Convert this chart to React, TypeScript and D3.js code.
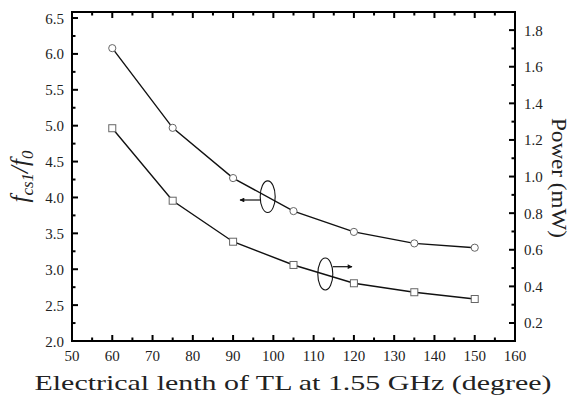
import React from "react";
import * as d3 from "d3";

const angles = [60, 75, 90, 105, 120, 135, 150];
const freqRatio = [6.08, 4.97, 4.27, 3.81, 3.52, 3.36, 3.3];
const powerMW = [1.264, 0.868, 0.644, 0.517, 0.417, 0.368, 0.331];
const xTicks = [50, 60, 70, 80, 90, 100, 110, 120, 130, 140, 150, 160];
const yLeftTicks = [2.0, 2.5, 3.0, 3.5, 4.0, 4.5, 5.0, 5.5, 6.0, 6.5];
const yRightTicks = [0.2, 0.4, 0.6, 0.8, 1.0, 1.2, 1.4, 1.6, 1.8];

const W = 576, H = 395;
const L = 72, R = 515, T = 12, B = 341;
const FONT = '"Liberation Serif", "Times New Roman", Times, "DejaVu Serif", serif';

export default function App() {
  const x = d3.scaleLinear().domain([50, 160]).range([L, R]);
  const yL = d3.scaleLinear().domain([2.0, 6.584]).range([B, T]);
  const yR = d3.scaleLinear().domain([0.1016, 1.899]).range([B, T]);

  const lineL = d3.line<number>().x((_, i) => x(angles[i])).y((d) => yL(d));
  const lineR = d3.line<number>().x((_, i) => x(angles[i])).y((d) => yR(d));

  const xMinor = d3.range(55, 160, 10);
  const yLMinor = d3.range(2.25, 6.5, 0.5);
  const yRMinor = d3.range(0.3, 1.85, 0.2);

  const tickStroke = { stroke: "#000", strokeWidth: 2 };
  const ts = { fontFamily: FONT };

  return (
    <svg width={W} height={H} style={{ position: "absolute", left: 0, top: 0, background: "#fff", fontFamily: FONT }}>
      <rect x={0} y={0} width={W} height={H} fill="#fff" />
      {xTicks.map((t) => (
        <g key={"xt" + t}>
          <line x1={x(t)} x2={x(t)} y1={B} y2={B - 6} {...tickStroke} />
          <line x1={x(t)} x2={x(t)} y1={T} y2={T + 6} {...tickStroke} />
          <text x={x(t)} y={361} fontSize={15} textAnchor="middle" fill="#222" style={ts}>{t}</text>
        </g>
      ))}
      {xMinor.map((t) => (
        <g key={"xm" + t}>
          <line x1={x(t)} x2={x(t)} y1={B} y2={B - 3.5} {...tickStroke} />
          <line x1={x(t)} x2={x(t)} y1={T} y2={T + 3.5} {...tickStroke} />
        </g>
      ))}
      {yLeftTicks.map((t) => (
        <g key={"yl" + t}>
          <line x1={L} x2={L + 6} y1={yL(t)} y2={yL(t)} {...tickStroke} />
          <text x={64} y={yL(t) + 5.5} fontSize={15} textAnchor="end" fill="#222" style={ts}>{t.toFixed(1)}</text>
        </g>
      ))}
      {yLMinor.map((t) => (
        <line key={"ylm" + t} x1={L} x2={L + 3.5} y1={yL(t)} y2={yL(t)} {...tickStroke} />
      ))}
      {yRightTicks.map((t) => (
        <g key={"yr" + t}>
          <line x1={R} x2={R - 6} y1={yR(t)} y2={yR(t)} {...tickStroke} />
          <text x={524} y={yR(t) + 5.5} fontSize={15} textAnchor="start" fill="#222" style={ts}>{t.toFixed(1)}</text>
        </g>
      ))}
      {yRMinor.map((t) => (
        <line key={"yrm" + t} x1={R} x2={R - 3.5} y1={yR(t)} y2={yR(t)} {...tickStroke} />
      ))}
      <rect x={L} y={T} width={R - L} height={B - T} fill="none" stroke="#000" strokeWidth={2} />

      <path d={lineL(freqRatio) || ""} fill="none" stroke="#111" strokeWidth={1.4} />
      <path d={lineR(powerMW) || ""} fill="none" stroke="#111" strokeWidth={1.4} />
      {freqRatio.map((v, i) => (
        <circle key={"c" + i} cx={x(angles[i])} cy={yL(v)} r={3.6} fill="#fff" stroke="#666" strokeWidth={1} />
      ))}
      {powerMW.map((v, i) => (
        <rect key={"s" + i} x={x(angles[i]) - 3.5} y={yR(v) - 3.5} width={7} height={7} fill="#fff" stroke="#666" strokeWidth={1} />
      ))}

      <defs>
        <marker id="ah" viewBox="0 0 10 10" refX={9} refY={5} markerWidth={6} markerHeight={4} orient="auto">
          <path d="M0,0 L10,5 L0,10 z" fill="#111" />
        </marker>
      </defs>
      <ellipse cx={267.7} cy={196.7} rx={7.5} ry={15.8} fill="none" stroke="#111" strokeWidth={1.1} />
      <line x1={260.5} x2={240} y1={200} y2={200} stroke="#111" strokeWidth={1.2} markerEnd="url(#ah)" />
      <ellipse cx={325.3} cy={274} rx={7.5} ry={16} fill="none" stroke="#111" strokeWidth={1.1} />
      <line x1={332.8} x2={352} y1={266.7} y2={266.7} stroke="#111" strokeWidth={1.2} markerEnd="url(#ah)" />

      <text x={293} y={390} fontSize={22} textAnchor="middle" fill="#222" style={ts} textLength={517} lengthAdjust="spacingAndGlyphs">
        Electrical lenth of TL at 1.55 GHz (degree)
      </text>
      <text transform={`translate(28, ${(T + B) / 2}) rotate(-90)`} fontSize={25} textAnchor="middle" fill="#222" fontStyle="italic" style={ts}>
        <tspan>f</tspan>
        <tspan fontSize={17} dy={5}>cs1</tspan>
        <tspan dy={-5}>/f</tspan>
        <tspan fontSize={17} dy={5}>0</tspan>
      </text>
      <text transform={`translate(552, 178) rotate(90)`} fontSize={21} textAnchor="middle" fill="#222" style={ts} textLength={120} lengthAdjust="spacingAndGlyphs">
        Power (mW)
      </text>
    </svg>
  );
}
